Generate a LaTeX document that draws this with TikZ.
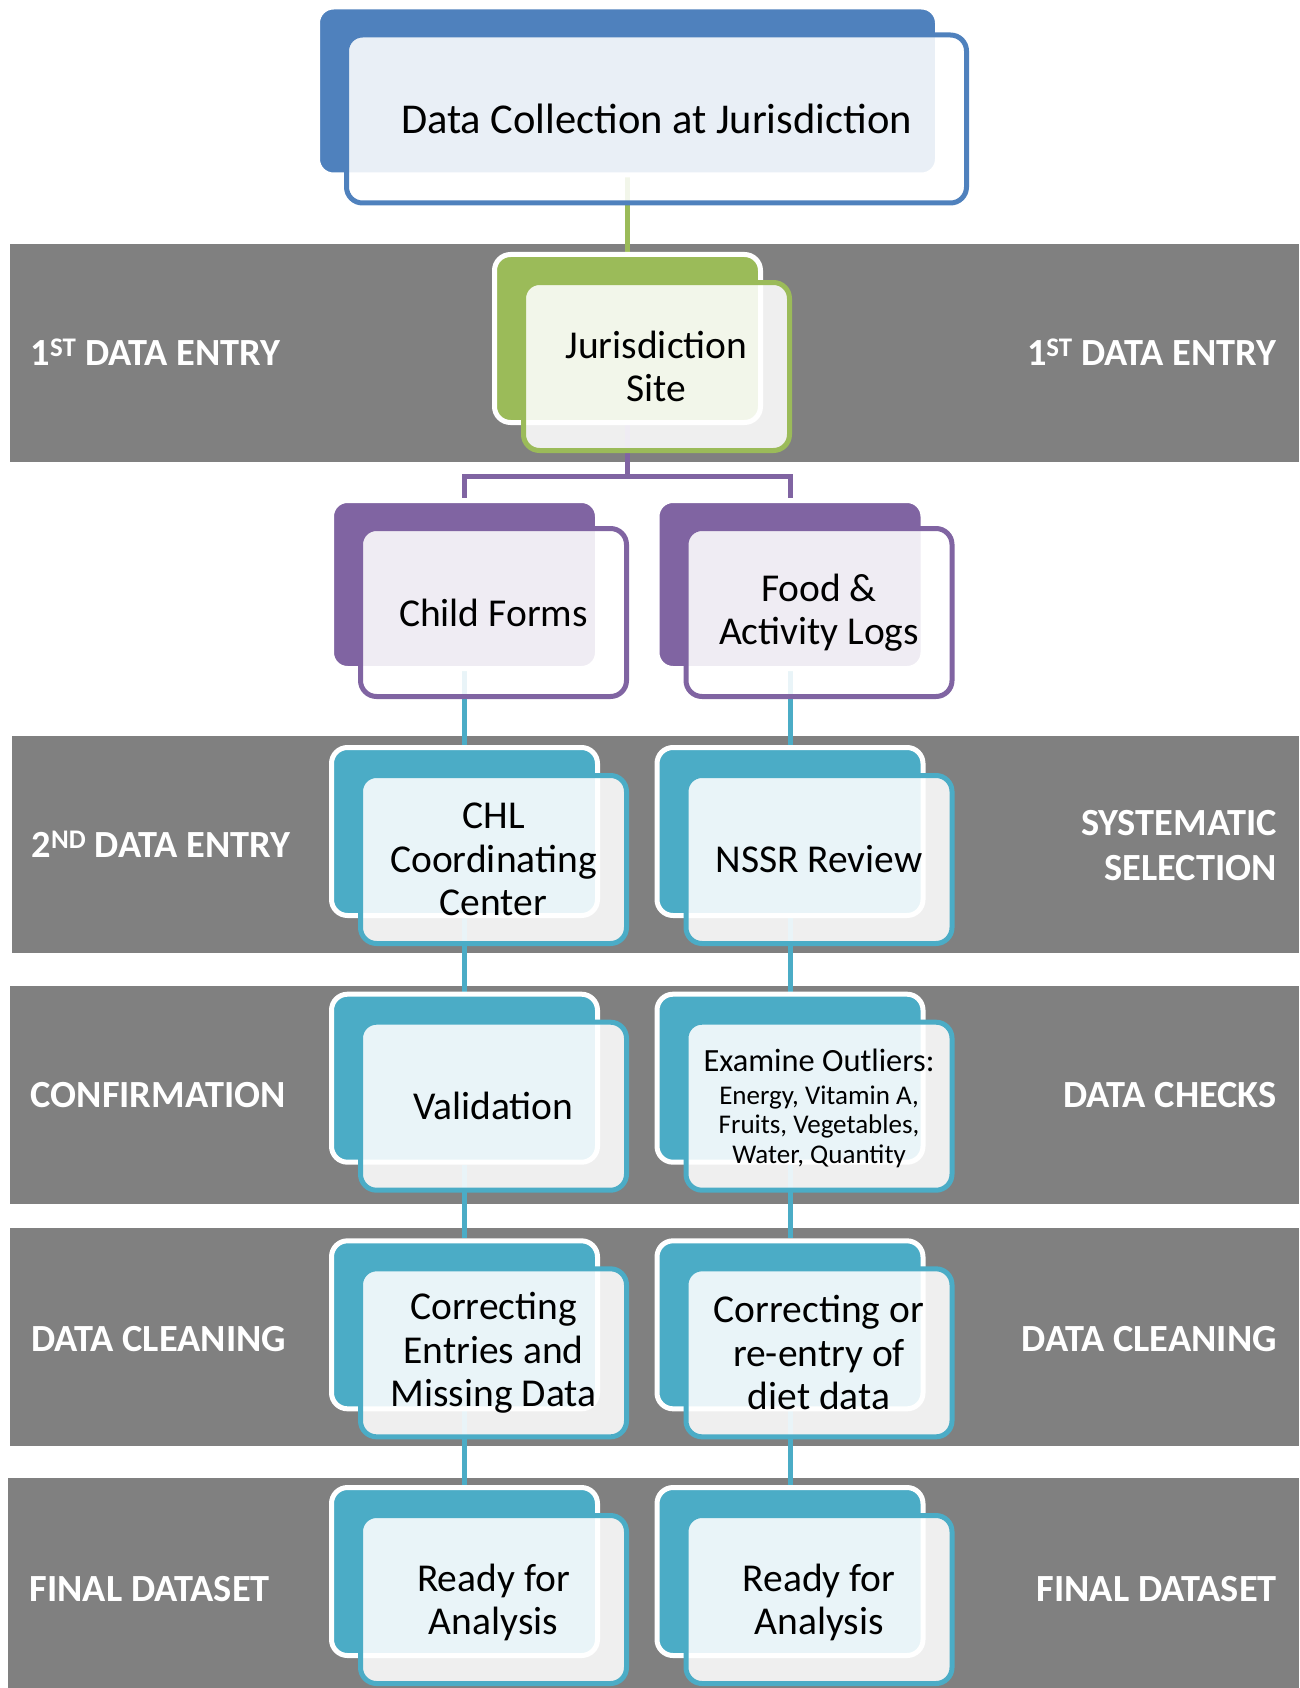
\documentclass[tikz,border=0pt]{standalone}
\usepackage{fontspec}
\setmainfont{Carlito}
\usepackage{xcolor}
\usepackage{tikz}
\usetikzlibrary{positioning, backgrounds}

\definecolor{topblue}{HTML}{4F81BD}
\definecolor{leafgreen}{HTML}{9BBB59}
\definecolor{plum}{HTML}{8064A2}
\definecolor{aqua}{HTML}{4BACC6}
\definecolor{bandgray}{HTML}{808080}

\begin{document}
\begin{tikzpicture}[x=1pt, y=-1pt,
    back/.style={rectangle, rounded corners=16pt, draw=white, line width=5pt, minimum width=266pt, minimum height=168pt, inner sep=0pt},
    front/.style={rectangle, rounded corners=16pt, fill=white, fill opacity=0.88, text opacity=1, line width=5pt, minimum width=266pt, minimum height=168pt, inner sep=0pt, align=center, font=\fontsize{39.5}{43.5}\selectfont},
    tag/.style={text=white, inner sep=0pt, font=\fontsize{38.4}{45.3}\selectfont\bfseries},
    link/.style={line width=5pt},
    band/.style={fill=bandgray}
]
\useasboundingbox (0,0) rectangle (1299,1688);

% Top box
\node[back, fill=topblue, minimum width=620pt] (dc-b) at (627.5,91) {};
\node[front, draw=topblue, minimum width=620pt, font=\fontsize{42.5}{46}\selectfont] (dc) at ([shift={(29,28)}]dc-b) {Data Collection at Jurisdiction};

% Site
\node[back, fill=leafgreen] (js-b) at (627.5,338.5) {};
\node[front, draw=leafgreen] (js) at ([shift={(29,28)}]js-b) {Jurisdiction\\Site};

% Forms and logs
\node[back, fill=plum] (cf-b) at (464.5,584.5) {};
\node[front, draw=plum] (cf) at ([shift={(29,28)}]cf-b) {Child Forms};
\node[back, fill=plum] (fal-b) at (790,584.5) {};
\node[front, draw=plum] (fal) at ([shift={(29,28)}]fal-b) {Food \&\\Activity Logs};

% Left column
\node[back, fill=aqua] (chl-b) at (464.5,831.5) {};
\node[front, draw=aqua] (chl) at ([shift={(29,28)}]chl-b) {CHL\\Coordinating\\Center};
\node[back, fill=aqua] (val-b) at (464.5,1078.2) {};
\node[front, draw=aqua] (val) at ([shift={(29,28)}]val-b) {Validation};
\node[back, fill=aqua] (cem-b) at (464.5,1324.8) {};
\node[front, draw=aqua] (cem) at ([shift={(29,28)}]cem-b) {Correcting\\Entries and\\Missing Data};
\node[back, fill=aqua] (rfal-b) at (464.5,1571.5) {};
\node[front, draw=aqua, text depth=0pt] (rfal) at ([shift={(29,28)}]rfal-b) {Ready for\\Analysis};

% Right column
\node[back, fill=aqua] (nssr-b) at (790,831.5) {};
\node[front, draw=aqua] (nssr) at ([shift={(29,28)}]nssr-b) {NSSR Review};
\node[back, fill=aqua] (eo-b) at (790,1078.2) {};
\node[front, draw=aqua, font=\fontsize{27}{29.5}\selectfont, text depth=-5pt] (eo) at ([shift={(29,28)}]eo-b) {{\fontsize{32.4}{34}\selectfont Examine Outliers:}\\[3pt]Energy, Vitamin A,\\Fruits, Vegetables,\\Water, Quantity};
\node[back, fill=aqua] (crd-b) at (790,1324.8) {};
\node[front, draw=aqua] (crd) at ([shift={(29,28)}]crd-b) {Correcting or\\re-entry of\\diet data};
\node[back, fill=aqua] (rfar-b) at (790,1571.5) {};
\node[front, draw=aqua, text depth=0pt] (rfar) at ([shift={(29,28)}]rfar-b) {Ready for\\Analysis};

% Stage labels
\node[tag, anchor=base west] (t1l) at (30.5,365.6) {1\textsuperscript{ST} DATA ENTRY};
\node[tag, anchor=base east] (t1r) at (1277,365.6) {1\textsuperscript{ST} DATA ENTRY};
\node[tag, anchor=base west] (t2l) at (31.5,857.5) {2\textsuperscript{ND} DATA ENTRY};
\node[tag, anchor=east, align=right] (t2r) at (1277,845.3) {SYSTEMATIC\\SELECTION};
\node[tag, anchor=base west] (t3l) at (30.5,1107.3) {CONFIRMATION};
\node[tag, anchor=base east] (t3r) at (1277,1107.3) {DATA CHECKS};
\node[tag, anchor=base west] (t4l) at (31,1351.2) {DATA CLEANING};
\node[tag, anchor=base east] (t4r) at (1277,1351.2) {DATA CLEANING};
\node[tag, anchor=base west] (t5l) at (29.5,1601.2) {FINAL DATASET};
\node[tag, anchor=base east] (t5r) at (1277,1601.2) {FINAL DATASET};

% Bands and links behind the boxes
\begin{scope}[on background layer]
\foreach \x/\t/\b in {10/244/461.7, 12/736/953.3, 10/986/1204, 10/1228.3/1445.7, 8/1477.7/1688}
    \fill[band] (\x,\t) rectangle (1299,\b);
\draw[link, leafgreen] (dc-b.south) -- (js-b.north);
\draw[link, plum] (js-b.south) -- ++(0,51) -| (cf-b.north);
\draw[link, plum] (js-b.south) -- ++(0,51) -| (fal-b.north);
\foreach \a/\b in {cf-b/chl-b, chl-b/val-b, val-b/cem-b, cem-b/rfal-b, fal-b/nssr-b, nssr-b/eo-b, eo-b/crd-b, crd-b/rfar-b}
    \draw[link, aqua] (\a.south) -- (\b.north);
\end{scope}

\end{tikzpicture}
\end{document}
